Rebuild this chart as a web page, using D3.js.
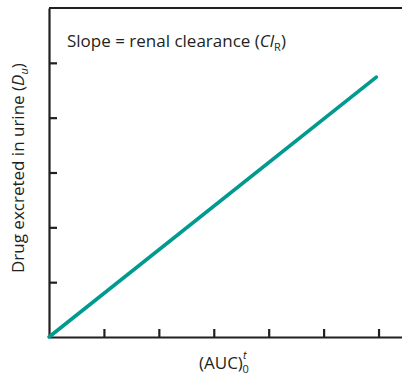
<!DOCTYPE html>
<html>
<head>
<meta charset="utf-8">
<script src="https://cdn.jsdelivr.net/npm/d3@7"></script>
<style>
  body { margin: 0; background: #fff; }
  svg text { font-family: "Open Sans", sans-serif; fill: #231f20; }
</style>
</head>
<body>
<div id="chart"></div>
<script>
// data
var xTicks = [0, 1, 2, 3, 4, 5, 6];
var yTicks = [0, 1, 2, 3, 4, 5];
var clearanceX = [0, 5.96];
var clearanceY = [0, 4.74];
var slopeNote = "Slope = renal clearance (";

var width = 402, height = 377;
var margin = {top: 8, right: -4, bottom: 40, left: 49};
var w = width - margin.left - margin.right;
var h = height - margin.top - margin.bottom;

var svg = d3.select("#chart")
  .append("svg")
    .attr("width", width)
    .attr("height", height);

var g = svg.append("g")
    .attr("transform", "translate(" + margin.left + "," + margin.top + ")");

var xScale = d3.scaleLinear().domain([0, 6.5]).range([0, w]);
var yScale = d3.scaleLinear().domain([0, 6]).range([h, 0]);

// x axis, ticks pointing up into the plot
g.append("g")
    .attr("transform", "translate(0," + h + ")")
    .call(d3.axisBottom(xScale).tickValues(xTicks.slice(1)).tickSizeInner(-8).tickSizeOuter(0).tickFormat(""));

g.append("g")
    .call(d3.axisLeft(yScale).tickValues(yTicks.slice(1)).tickSizeInner(-8).tickSizeOuter(0).tickFormat(""));

svg.selectAll(".domain, .tick line")
    .attr("stroke", "#231f20")
    .attr("stroke-width", 2.2);

// top border
g.append("line")
    .attr("x1", 0).attr("x2", w)
    .attr("y1", yScale(6)).attr("y2", yScale(6))
    .attr("stroke", "#231f20")
    .attr("stroke-width", 2.2);

var pts = clearanceX.map(function(x, i) { return {x: x, y: clearanceY[i]}; });

var valueline = d3.line()
    .x(function(d) { return xScale(d.x); })
    .y(function(d) { return yScale(d.y); });

g.append("path")
    .attr("fill", "none")
    .attr("stroke", "#009a8f")
    .attr("stroke-width", 3.6)
    .attr("stroke-linecap", "round")
    .attr("d", valueline(pts));

// annotation
var note = svg.append("text")
    .attr("x", 67)
    .attr("y", 47)
    .attr("font-size", 17);
note.append("tspan").text(slopeNote);
note.append("tspan").attr("font-style", "italic").text("Cl");
note.append("tspan").attr("font-size", 11).attr("dy", 4).text("R");
note.append("tspan").attr("dy", -4).text(")");

// x label
var xl = svg.append("text")
    .attr("x", 199)
    .attr("y", 369)
    .attr("font-size", 17);
xl.append("tspan").text("(AUC)");
xl.append("tspan").attr("font-size", 11).attr("font-style", "italic").attr("dy", -10).text("t");
xl.append("tspan").attr("font-size", 11).attr("dx", -4).attr("dy", 14).text("0");

// y label
var yl = svg.append("text")
    .attr("transform", "translate(24,273) rotate(-90)")
    .attr("font-size", 17);
yl.append("tspan").text("Drug excreted in urine (");
yl.append("tspan").attr("font-style", "italic").text("D");
yl.append("tspan").attr("font-size", 11).attr("font-style", "italic").attr("dy", 4).text("u");
yl.append("tspan").attr("dy", -4).text(")");
</script>
</body>
</html>
